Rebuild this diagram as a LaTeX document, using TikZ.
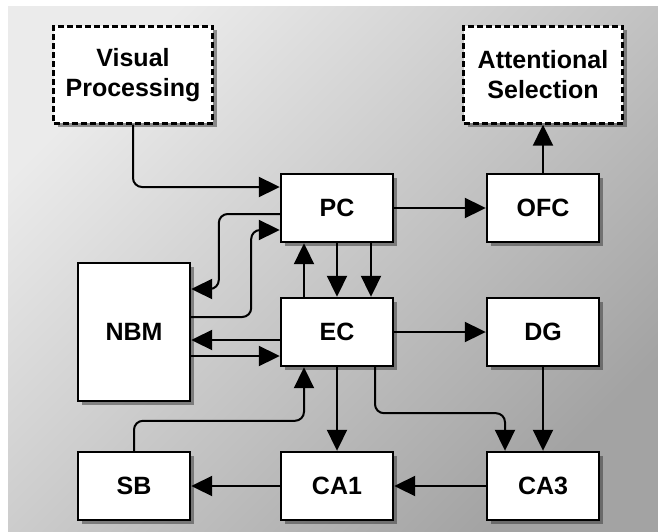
\documentclass[tikz,border=0pt]{standalone}
\usepackage{fontspec}
\setmainfont{Liberation Sans}
\usetikzlibrary{arrows.meta, shadows}

\begin{document}
\begin{tikzpicture}[x=1pt, y=-1pt, >={Triangle[length=21pt, width=20pt]}, line width=2pt,
  box/.style={draw, fill=white, line width=2.4pt, font=\fontsize{25}{30}\selectfont\bfseries,
    align=center, inner sep=0pt, minimum width=112pt, minimum height=68pt,
    drop shadow={shadow xshift=4pt, shadow yshift=-4pt, opacity=.5, fill=black!80}},
  ext/.style={box, dash pattern=on 6pt off 3pt, minimum width=159pt, minimum height=97pt},
  conn/.style={->, rounded corners=9pt}]
  % fondo
  \useasboundingbox (0,0) rectangle (658,532);
  \fill[white] (0,0) rectangle (658,532);
  \shade[top color=black!8, bottom color=black!36, shading angle=45] (8,7) rectangle (658,532);
  % cajas
  \node[ext] (vp) at (133,75) {Visual\\Processing};
  \node[ext] (as) at (543,75) {Attentional\\Selection};
  \node[box] (pc) at (337,208) {PC};
  \node[box] (ofc) at (543,208) {OFC};
  \node[box, minimum height=138pt] (nbm) at (134,332) {NBM};
  \node[box] (ec) at (337,332) {EC};
  \node[box] (dg) at (543,332) {DG};
  \node[box] (sb) at (134,486) {SB};
  \node[box] (ca1) at (337,486) {CA1};
  \node[box] (ca3) at (543,486) {CA3};
  % entradas a PC y bucles con NBM
  \draw[conn] (vp) |- ([yshift=21pt]pc.west);
  \draw[conn] ([yshift=-6pt]pc.west) -- ++(-61,0) |- ([yshift=43pt]nbm.east);
  \draw[conn] ([yshift=15pt]nbm.east) -- ++(60,0) |- ([yshift=-22pt]pc.west);
  \draw[->] ([yshift=-8pt]ec.west) -- ([yshift=-8pt]nbm.east);
  \draw[->] ([yshift=-24pt]nbm.east) -- ([yshift=-24pt]ec.west);
  % PC <-> EC
  \draw[->] ([xshift=-33pt]ec.north) -- ([xshift=-33pt]pc.south);
  \foreach \dx in {0,34}{\draw[->] ([xshift=\dx pt]pc.south) -- ([xshift=\dx pt]ec.north);}
  % salidas
  \draw[->] (pc) -- (ofc);
  \draw[->] (ofc) -- (as);
  \draw[->] (ec) -- (dg);
  \draw[->] (dg) -- (ca3);
  % hipocampo
  \draw[->] (ec) -- (ca1);
  \draw[conn] ([xshift=38pt]ec.south) -- ++(0,46) -| ([xshift=-38pt]ca3.north);
  \draw[->] (ca3) -- (ca1);
  \draw[->] (ca1) -- (sb);
  \draw[conn] (sb.north) -- ++(0,-30) -| ([xshift=-33pt]ec.south);
\end{tikzpicture}
\end{document}
